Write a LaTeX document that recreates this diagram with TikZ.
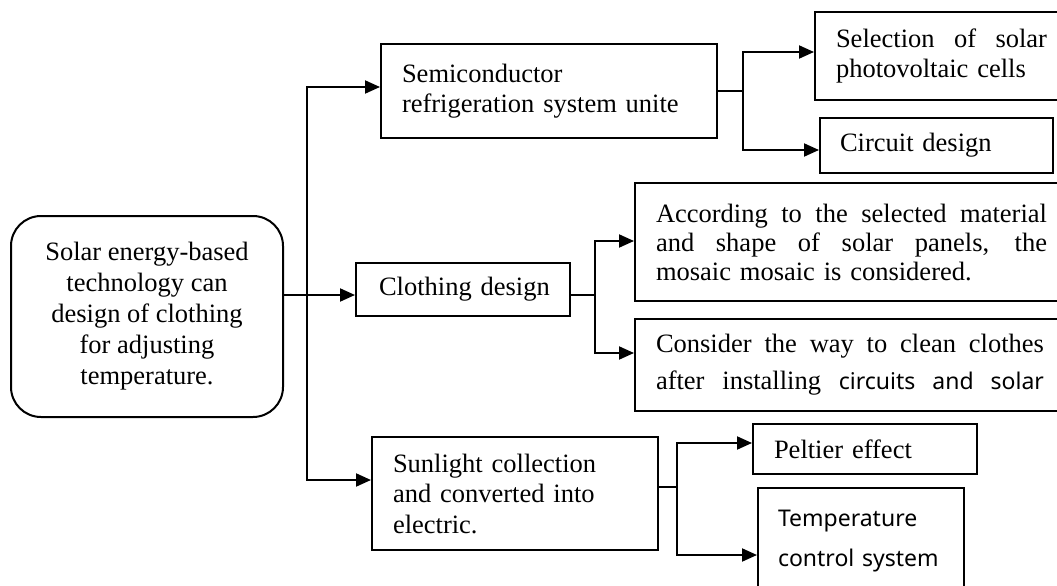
\documentclass[tikz,border=0pt]{standalone}
\usepackage{fontspec}
\setmainfont{Liberation Serif}
\newfontfamily\sansf{Noto Sans}
\usetikzlibrary{arrows.meta}
\newcommand{\spreadline}[2]{\makebox[#1][s]{\spaceskip=0.25em plus 1fil\relax #2}}
\begin{document}
\begin{tikzpicture}[x=1pt,y=-1pt,
  every node/.style={font=\fontsize{26.5}{30.5}\selectfont},
  box/.style={draw, rectangle, line width=2pt, anchor=north west, align=left, inner ysep=0pt},
  arr/.style={line width=2pt, -{Triangle[length=15pt,width=13pt]}},
  ln/.style={line width=2pt}]
\useasboundingbox (0,0) rectangle (1057,586);

% main rounded box
\node[draw, line width=2pt, rounded corners=30pt, minimum width=272pt, minimum height=201pt,
  align=center, font=\fontsize{26.5}{31}\selectfont] (main) at (147,316.5)
  {Solar energy-based\\technology can\\design of clothing\\for adjusting\\temperature.};

% second level
\node[box, minimum width=336pt, minimum height=94pt, inner xsep=21pt, text width=294pt] (semi) at (380,43)
  {Semiconductor\\refrigeration system unite};
\node[box, minimum width=214pt, minimum height=53pt, inner xsep=23pt, text width=168pt] (cloth) at (355,262)
  {\mbox{Clothing design}};
\node[box, minimum width=286pt, minimum height=113pt, inner xsep=21pt, text width=244pt] (sun) at (371,436)
  {Sunlight collection\\and converted into\\electric.};

% third level
\node[box, minimum width=260pt, minimum height=88pt, inner xsep=21pt, text width=218pt] (sel) at (814,11)
  {\spreadline{211pt}{Selection of solar}\\photovoltaic cells};
\node[box, minimum width=233pt, minimum height=55pt, inner xsep=20pt, text width=193pt] (circ) at (819,117)
  {\mbox{Circuit design}};
\node[box, minimum width=440pt, minimum height=118pt, inner xsep=21pt, text width=398pt,
  font=\fontsize{26.5}{29}\selectfont] (acc) at (634,182)
  {\spreadline{391pt}{According to the selected material}\\\spreadline{391pt}{and shape of solar panels, the}\\mosaic mosaic is considered.};
\node[box, minimum width=440pt, minimum height=92pt, inner xsep=21pt, text width=398pt,
  font=\fontsize{26.5}{37}\selectfont] (cons) at (634,318)
  {\spreadline{388pt}{Consider the way to clean clothes}\\\spreadline{388pt}{after installing {\sansf\fontsize{23}{37}\selectfont\spaceskip=0.25em plus 1fil\relax circuits and solar}}};
\node[box, minimum width=224pt, minimum height=50pt, inner xsep=21pt, text width=182pt] (pelt) at (752,423)
  {\mbox{Peltier effect}};
\node[box, minimum width=206pt, minimum height=106pt, inner xsep=20pt, text width=166pt,
  font=\sansf\fontsize{23}{40}\selectfont] (temp) at (757,487)
  {Temperature\\control system};

% junction coordinates
\coordinate (j0) at (307,295);
\coordinate (js) at (743,91);
\coordinate (jc) at (595,295);
\coordinate (ju) at (677,487);

% trunk
\draw[ln] (main.east |- j0) -- (j0);
\draw[arr] (j0) -- (cloth.west |- j0);
\draw[arr] (j0) |- (semi.west |- 0,87);
\draw[arr] (j0) |- (sun.west |- 0,480);

% semiconductor branch
\draw[ln] (semi.east |- js) -- (js);
\draw[arr] (js) |- (sel.west |- 0,52);
\draw[arr] (js) |- (circ.west |- 0,150);

% clothing branch
\draw[ln] (cloth.east |- jc) -- (jc);
\draw[arr] (jc) |- (acc.west |- 0,241);
\draw[arr] (jc) |- (cons.west |- 0,353);

% sunlight branch
\draw[ln] (sun.east |- ju) -- (ju);
\draw[arr] (ju) |- (pelt.west |- 0,443);
\draw[arr] (ju) |- (temp.west |- 0,555);
\end{tikzpicture}
\end{document}
